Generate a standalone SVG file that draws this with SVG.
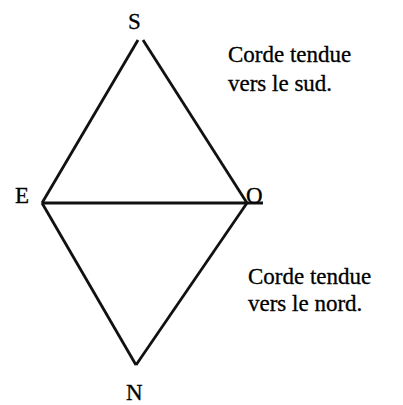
<svg xmlns="http://www.w3.org/2000/svg" width="403" height="405" viewBox="0 0 403 405">
<style>
text{font-family:"Liberation Serif","Times New Roman",serif;font-size:23px;fill:#000;stroke:#000;stroke-width:0.3}
.l{stroke:#111;stroke-width:2.8;fill:none;stroke-linecap:butt}
</style>
<rect width="403" height="405" fill="#fff"/>
<g id="connectors">
<line class="l" x1="138" y1="40" x2="42" y2="203"/>
<line class="l" x1="143" y1="40" x2="247" y2="203"/>
<line class="l" x1="42" y1="203" x2="263" y2="203"/>
<line class="l" x1="42" y1="203" x2="136" y2="365"/>
<line class="l" x1="247" y1="203" x2="136" y2="365"/>
</g>
<g id="S"><text x="128" y="29">S</text></g>
<g id="E"><text x="15" y="203">E</text></g>
<g id="O"><text x="246" y="203">O</text></g>
<g id="N"><text x="126" y="400">N</text></g>
<g id="label-sud"><text x="228" y="62">Corde tendue</text><text x="228" y="91">vers le sud.</text></g>
<g id="label-nord"><text x="248" y="284">Corde tendue</text><text x="248" y="311">vers le nord.</text></g>
</svg>
